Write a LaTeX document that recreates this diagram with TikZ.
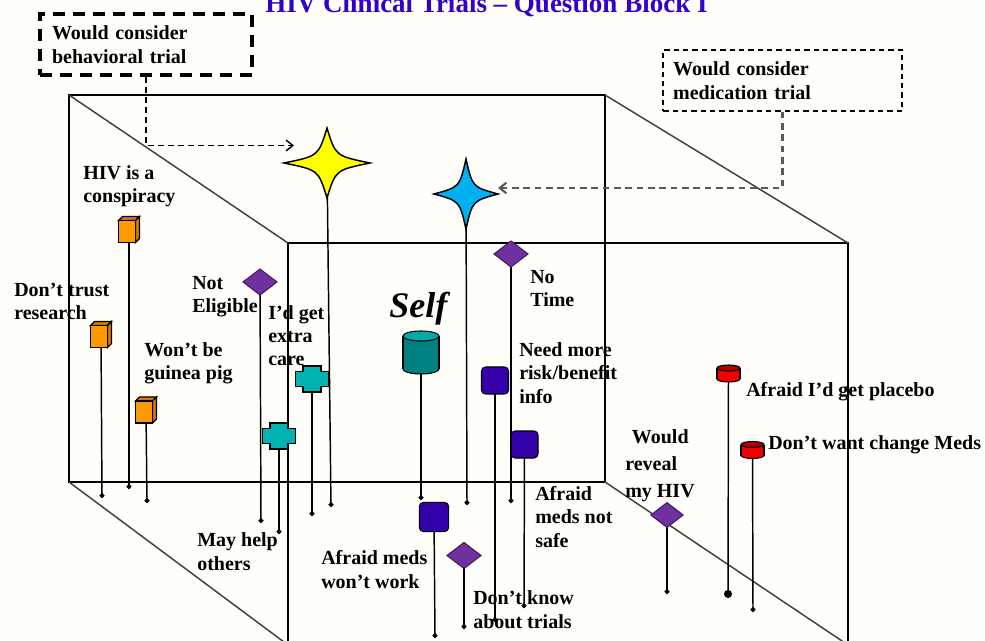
\documentclass[tikz,border=0pt]{standalone}
\usepackage{fontspec}
\setmainfont{Liberation Serif}
\usetikzlibrary{arrows.meta}

\definecolor{paper}{RGB}{255,254,248}
\definecolor{titleblue}{RGB}{51,0,204}
\definecolor{cubeorange}{RGB}{255,153,0}
\definecolor{cubedark}{RGB}{214,122,0}
\definecolor{crossteal}{RGB}{0,178,178}
\definecolor{gempurple}{RGB}{112,48,160}
\definecolor{boxindigo}{RGB}{51,0,170}
\definecolor{selfteal}{RGB}{0,128,128}
\definecolor{selftop}{RGB}{0,170,170}
\definecolor{canred}{RGB}{240,0,0}
\definecolor{cantop}{RGB}{170,0,0}
\definecolor{staryellow}{RGB}{255,255,0}
\definecolor{starblue}{RGB}{0,176,240}

\begin{document}
\begin{tikzpicture}[
        x=0.75pt, y=-0.75pt,
        edge/.style={draw=black, line width=1.5pt},
        depth/.style={draw=black!75, line width=1.1pt},
        pole/.style={draw=black, line width=1.1pt, -{Circle[length=3.6pt]}},
        lbl/.style={font=\fontsize{15}{17.6}\selectfont\bfseries, align=left, inner sep=0pt, anchor=base west},
        behavbox/.style={draw=black, line width=3pt, dash pattern=on 9pt off 6pt, text width=141pt,
                        inner xsep=9pt, minimum height=45.75pt, align=left, font=\fontsize{15}{17.6}\selectfont\bfseries},
        medicbox/.style={draw=black, line width=1.1pt, dash pattern=on 4pt off 3pt, text width=164pt,
                        inner xsep=7.5pt, minimum height=45.75pt, align=left, font=\fontsize{15}{17.6}\selectfont\bfseries},
        behavarrow/.style={draw=black, line width=1.1pt, dash pattern=on 4.5pt off 3pt, -{Straight Barb[length=5pt, width=8pt]}},
        medicarrow/.style={draw=black!65, line width=1.6pt, dash pattern=on 5pt off 3.5pt, -{Straight Barb[length=5pt, width=8pt]}},
        marker/.style={draw=black, line width=0.8pt},
        cube/.pic={
            \filldraw[marker, fill=cubedark] (-10.5,-9) -- (-6.5,-13) -- (10.5,-13) -- (6.5,-9) -- cycle;
            \filldraw[marker, fill=cubedark] (6.5,-9) -- (10.5,-13) -- (10.5,9) -- (6.5,13) -- cycle;
            \filldraw[marker, fill=cubeorange] (-10.5,-9) rectangle (6.5,13);
        },
        plus/.pic={
            \filldraw[marker, line width=1.1pt, fill=crossteal] (-9,-13) -- (9,-13) -- (9,-7.5) -- (16.5,-7.5) -- (16.5,7.5) -- (9,7.5)
                -- (9,13) -- (-9,13) -- (-9,7.5) -- (-16.5,7.5) -- (-16.5,-7.5) -- (-9,-7.5) -- cycle;
        },
        rhomb/.pic={
            \filldraw[marker, draw=gempurple!60!black, fill=gempurple] (-17,0) -- (0,-13) -- (17,0) -- (0,13) -- cycle;
        },
        block/.pic={
            \filldraw[marker, fill=boxindigo, rounded corners=3pt] (-13.5,-13.5) rectangle (13.5,13.5);
        },
        selfcan/.pic={
            \filldraw[marker, fill=selfteal] (0,16.5) ellipse [x radius=18, y radius=5];
            \fill[selfteal] (-18,-16.5) rectangle (18,16.5);
            \draw[marker] (-18,-16.5) -- (-18,16.5) (18,-16.5) -- (18,16.5);
            \filldraw[marker, fill=selftop] (0,-16.5) ellipse [x radius=18, y radius=5];
        },
        redcan/.pic={
            \filldraw[marker, fill=canred] (0,5.5) ellipse [x radius=11.5, y radius=3];
            \fill[canred] (-11.5,-5.5) rectangle (11.5,5.5);
            \draw[marker] (-11.5,-5.5) -- (-11.5,5.5) (11.5,-5.5) -- (11.5,5.5);
            \filldraw[marker, fill=cantop] (0,-5.5) ellipse [x radius=11.5, y radius=3];
        },
        star4/.pic={
            \filldraw[marker, line width=1.1pt, fill=#1] (1,0) .. controls (0.2,0.2) .. (0,1) .. controls (-0.2,0.2) .. (-1,0)
                .. controls (-0.2,-0.2) .. (0,-1) .. controls (0.2,-0.2) .. (1,0) -- cycle;
        }
    ]
    \useasboundingbox (0,0) rectangle (985,641);
    \fill[paper] (0,0) rectangle (985,641);

    \node[anchor=base, text=titleblue, font=\fontsize{20.25}{24}\selectfont\bfseries] (title) at (486.5,13)
        {HIV Clinical Trials -- Question Block I};

    % the box
    \coordinate (btl) at (69,95);
    \coordinate (bbr) at (605,482);
    \coordinate (ftl) at (288,243);
    \coordinate (fbr) at (848,645);
    \draw[edge] (btl) rectangle (bbr);
    \draw[edge] (ftl) rectangle (fbr);
    \draw[depth] (btl) -- (ftl);
    \draw[depth] (btl -| bbr) -- (ftl -| fbr);
    \draw[depth] (btl |- bbr) -- (ftl |- fbr);
    \draw[depth] (bbr) -- (fbr);

    % markers and the feet of their poles
    \coordinate (ystar) at (327,163);        \coordinate (ystarfoot) at (331,507);
    \coordinate (bstar) at (466,194);        \coordinate (bstarfoot) at (467,505);
    \coordinate (consp) at (129,229.5);      \coordinate (conspfoot) at (129,489);
    \coordinate (distrust) at (101,334.5);   \coordinate (distrustfoot) at (102,498);
    \coordinate (guinea) at (146,410);       \coordinate (guineafoot) at (147,503);
    \coordinate (noteli) at (260,282);       \coordinate (notelifoot) at (261,523);
    \coordinate (extra) at (312,379);        \coordinate (extrafoot) at (312,516);
    \coordinate (mayhelp) at (279,436);      \coordinate (mayhelpfoot) at (279,534);
    \coordinate (self) at (421,352.5);       \coordinate (selffoot) at (421,500);
    \coordinate (notime) at (511,254);       \coordinate (notimefoot) at (511,503);
    \coordinate (needinfo) at (495,380.5);   \coordinate (needinfofoot) at (495,622);
    \coordinate (notsafe) at (524.5,444.5);  \coordinate (notsafefoot) at (524,608);
    \coordinate (wontwork) at (434,517);     \coordinate (wontworkfoot) at (435,638);
    \coordinate (dontknow) at (464,555.5);   \coordinate (dontknowfoot) at (464,629);
    \coordinate (reveal) at (667,515);       \coordinate (revealfoot) at (667,594);
    \coordinate (placebo) at (728.5,373.5);  \coordinate (placebofoot) at (728,598);
    \coordinate (changemeds) at (752.5,450); \coordinate (changemedsfoot) at (753,612);

    \draw[pole] (ystar) -- (ystarfoot);
    \draw[pole] (bstar) -- (bstarfoot);
    \draw[pole] (consp) -- (conspfoot);
    \draw[pole] (distrust) -- (distrustfoot);
    \draw[pole] (guinea) -- (guineafoot);
    \draw[pole] (noteli) -- (notelifoot);
    \draw[pole] (extra) -- (extrafoot);
    \draw[pole] (mayhelp) -- (mayhelpfoot);
    \draw[pole] (self) -- (selffoot);
    \draw[pole] (notime) -- (notimefoot);
    \draw[pole] (needinfo) -- (needinfofoot);
    \draw[pole] (notsafe) -- (notsafefoot);
    \draw[pole] (wontwork) -- (wontworkfoot);
    \draw[pole] (dontknow) -- (dontknowfoot);
    \draw[pole] (reveal) -- (revealfoot);
    \draw[pole, -{Circle[length=6pt]}] (placebo) -- (placebofoot);
    \draw[pole] (changemeds) -- (changemedsfoot);

    \pic[xscale=43, yscale=35] at (ystar) {star4=staryellow};
    \pic[xscale=32, yscale=35] at (bstar) {star4=starblue};
    \pic at (consp) {cube};
    \pic at (distrust) {cube};
    \pic at (guinea) {cube};
    \pic at (noteli) {rhomb};
    \pic at (extra) {plus};
    \pic at (mayhelp) {plus};
    \pic at (self) {selfcan};
    \pic at (notime) {rhomb};
    \pic at (needinfo) {block};
    \pic at (notsafe) {block};
    \pic[scale=1.08] at (wontwork) {block};
    \pic at (dontknow) {rhomb};
    \pic[scale=0.95] at (reveal) {rhomb};
    \pic at (placebo) {redcan};
    \pic at (changemeds) {redcan};

    % labels (base = baseline of the last line)
    \node[lbl] (consplbl) at (83,203) {HIV is a\\conspiracy};
    \node[lbl] (distrustlbl) at (14,320) {Don't trust\\research};
    \node[lbl] (guinealbl) at (144,380) {Won't be\\guinea pig};
    \node[lbl] (notelilbl) at (192,313) {Not\\Eligible};
    \node[lbl] (extralbl) at (268,366) {I'd get\\extra\\care};
    \node[lbl] (mayhelplbl) at (197,570) {May help\\others};
    \node[lbl, font=\fontsize{27}{30}\selectfont\bfseries\itshape] (selflbl) at (389,318) {Self};
    \node[lbl] (notimelbl) at (530,307) {No\\Time};
    \node[lbl] (needinfolbl) at (519,403) {Need more\\risk/benefit\\info};
    \node[lbl] (notsafelbl) at (535,547) {Afraid\\meds not\\safe};
    \node[lbl] (wontworklbl) at (321,588) {Afraid meds\\won't work};
    \node[lbl] (dontknowlbl) at (473,628) {Don't know\\about trials};
    \node[lbl, font=\fontsize{15}{20}\selectfont\bfseries] (reveallbl) at (625,497) {\hspace*{5pt}Would\\reveal\\my HIV};
    \node[lbl] (placebolbl) at (746,397) {Afraid I'd get placebo};
    \node[lbl] (changemedslbl) at (768,449) {Don't want change Meds};

    % the two trial boxes
    \node[behavbox] (behav) at (146,44.5) {Would consider\\behavioral trial};
    \node[medicbox] (medic) at (782.5,80.5) {Would consider\\medication trial};
    \coordinate (ystartip) at (294,145.5);
    \coordinate (bstartip) at (498,188);
    \draw[behavarrow] (behav.south) |- (ystartip);
    \draw[medicarrow] (medic.south) |- (bstartip);
\end{tikzpicture}
\end{document}
